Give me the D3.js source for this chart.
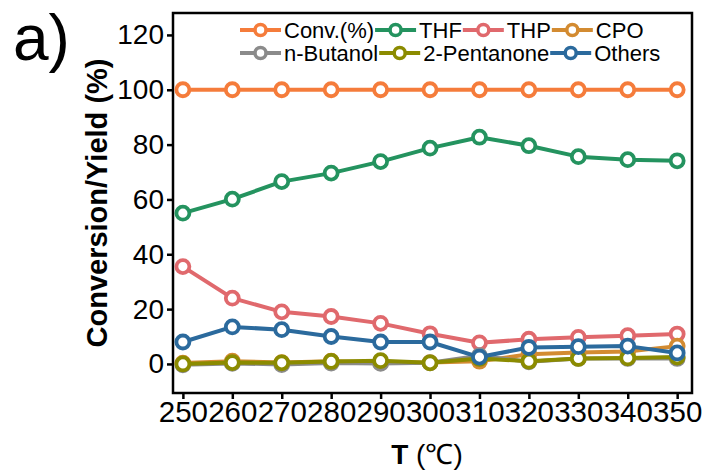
<!DOCTYPE html>
<html>
<head>
<meta charset="utf-8">
<script src="https://cdn.jsdelivr.net/npm/d3@7"></script>
<style>
    body { margin: 0; background: #fff; }
    text { font-family: Arial, "Liberation Sans", sans-serif; fill: #000; }
</style>
</head>
<body>
<div id="chart"></div>
<script>
(function () {
    "use strict";

    const temperatures = [250, 260, 270, 280, 290, 300, 310, 320, 330, 340, 350];
    const yTicks = [0, 20, 40, 60, 80, 100, 120];

    const conv = [100, 100, 100, 100, 100, 100, 100, 100, 100, 100, 100];
    const thf = [55, 60.1, 66.5, 69.6, 73.8, 78.7, 82.7, 79.6, 75.6, 74.5, 74.1];
    const thp = [35.5, 24, 19, 17.3, 14.8, 11, 7.7, 9, 9.7, 10.3, 10.9];
    const cpo = [0.3, 1, 0.5, 1, 0.5, 0.5, 1, 3.5, 4.2, 4.5, 6.5];
    const butanol = [-0.3, 0.2, -0.2, 0.3, 0.2, 0.4, 3, 0.8, 2, 2, 2];
    const pentanone = [0, 0.5, 0.4, 0.9, 1.2, 0.4, 2, 1, 2, 2.2, 2.5];
    const others = [8, 13.5, 12.5, 10, 8, 8, 2.5, 6, 6.3, 6.5, 4];

    const series = [
        { name: "Conv.(%)", color: "#f57c3b", values: conv },
        { name: "THF", color: "#24935f", values: thf },
        { name: "THP", color: "#e0696d", values: thp },
        { name: "CPO", color: "#d38b31", values: cpo },
        { name: "n-Butanol", color: "#8b8b8b", values: butanol },
        { name: "2-Pentanone", color: "#8b8b00", values: pentanone },
        { name: "Others", color: "#2b6a9d", values: others }
    ];

    const width = 705;
    const height = 473;
    const box = { left: 173, right: 692, top: 13, bottom: 393 };

    const svg = d3.select("#chart").append("svg")
        .attr("width", width)
        .attr("height", height);

    const xScale = d3.scaleLinear()
        .domain([248, 353])
        .range([box.left, box.right]);

    const yScale = d3.scaleLinear()
        .domain([-10.6, 128])
        .range([box.bottom, box.top]);

    const xAxis = d3.axisBottom(xScale)
        .tickValues(temperatures)
        .tickSizeInner(6)
        .tickSizeOuter(0)
        .tickPadding(2)
        .tickFormat(d3.format("d"));

    const yAxis = d3.axisLeft(yScale)
        .tickValues(yTicks)
        .tickSizeInner(6)
        .tickSizeOuter(0)
        .tickPadding(3)
        .tickFormat(d3.format("d"));

    const gx = svg.append("g")
        .attr("transform", `translate(0,${box.bottom})`)
        .call(xAxis);

    const gy = svg.append("g")
        .attr("transform", `translate(${box.left},0)`)
        .call(yAxis);

    for (const g of [gx, gy]) {
        g.select(".domain").remove();
        g.selectAll("line").attr("stroke", "#000").attr("stroke-width", 2.5);
        g.selectAll("text").attr("fill", "#000");
    }
    gx.selectAll("text").style("font-size", "29.5px");
    gy.selectAll("text").style("font-size", "28px");

    // frame around the plot
    svg.append("rect")
        .attr("x", box.left)
        .attr("y", box.top)
        .attr("width", box.right - box.left)
        .attr("height", box.bottom - box.top)
        .attr("fill", "none")
        .attr("stroke", "#000")
        .attr("stroke-width", 2.5);

    const line = d3.line()
        .x((d, i) => xScale(temperatures[i]))
        .y(d => yScale(d));

    const plot = svg.append("g");

    for (const s of series) {
        plot.append("path")
            .attr("d", line(s.values))
            .attr("fill", "none")
            .attr("stroke", s.color)
            .attr("stroke-width", 4)
            .attr("stroke-linejoin", "round");

        plot.append("g")
            .selectAll("circle")
            .data(s.values)
            .join("circle")
            .attr("cx", (d, i) => xScale(temperatures[i]))
            .attr("cy", d => yScale(d))
            .attr("r", 6.5)
            .attr("fill", "#fff")
            .attr("stroke", s.color)
            .attr("stroke-width", 3.8);
    }

    // legend, two rows, left aligned
    const legendRows = [series.slice(0, 4), series.slice(4)];
    const legend = svg.append("g");

    legendRows.forEach((row, r) => {
        let x = 240;
        const y = 30 + r * 23;

        for (const s of row) {
            const item = legend.append("g")
                .attr("transform", `translate(${x},${y})`);

            item.append("line")
                .attr("x1", 0)
                .attr("x2", 41)
                .attr("stroke", s.color)
                .attr("stroke-width", 4);

            item.append("circle")
                .attr("cx", 20.5)
                .attr("r", 5.5)
                .attr("fill", "#fff")
                .attr("stroke", s.color)
                .attr("stroke-width", 3.5);

            const label = item.append("text")
                .attr("x", 44)
                .attr("dy", "0.36em")
                .style("font-size", "22px")
                .text(s.name);

            x += 44 + label.node().getComputedTextLength() + 1;
        }
    });

    svg.append("text")
        .attr("transform", "translate(107,203) rotate(-90)")
        .attr("text-anchor", "middle")
        .style("font-size", "29px")
        .style("font-weight", "bold")
        .text("Conversion/Yield (%)");

    const xTitle = svg.append("text")
        .attr("x", 427)
        .attr("y", 464)
        .attr("text-anchor", "middle")
        .style("font-size", "28px");

    xTitle.append("tspan")
        .style("font-weight", "bold")
        .text("T ");

    xTitle.append("tspan")
        .text("(℃)");

    svg.append("text")
        .attr("x", 13)
        .attr("y", 60)
        .style("font-size", "64px")
        .text("a)");
}());
</script>
</body>
</html>
